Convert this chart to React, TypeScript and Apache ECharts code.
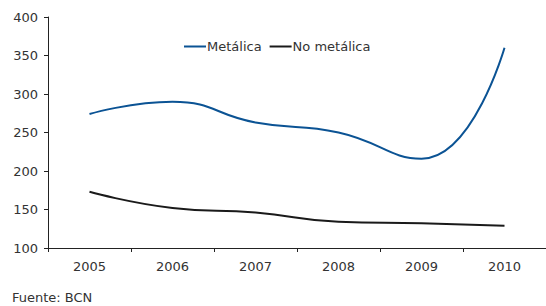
import React, { useEffect, useRef } from "react";
import * as echarts from "echarts";

const years = ["2005", "2006", "2007", "2008", "2009", "2010"];
const metalica = [274, 290, 263, 250, 216, 360];
const noMetalica = [173, 152, 146, 134, 132, 129];
const yTicks = { min: 100, max: 400, interval: 50 };
const sourceText = "Fuente: BCN";

const FONT = "DejaVu Sans";

export default function App() {
  const ref = useRef<HTMLDivElement>(null);
  useEffect(() => {
    if (!ref.current) return;
    const chart = echarts.init(ref.current, undefined, { renderer: "svg" });
    chart.setOption({
      animation: false,
      backgroundColor: "#ffffff",
      textStyle: { fontFamily: FONT },
      grid: { left: 48, top: 17, bottom: 58, width: 500 },
      legend: {
        top: 35,
        left: 179,
        itemWidth: 22,
        itemHeight: 2,
        itemGap: 8,
        icon: "rect",
        textStyle: { fontFamily: FONT, fontSize: 13, color: "#333", padding: [0, 0, 0, -4] },
        data: ["Metálica", "No metálica"],
      },
      xAxis: {
        type: "category",
        data: years,
        boundaryGap: true,
        axisLine: { lineStyle: { color: "#222", width: 1 } },
        axisTick: { show: true, length: 4, lineStyle: { color: "#222" } },
        axisLabel: { fontFamily: FONT, fontSize: 13, color: "#333", margin: 12 },
        splitLine: { show: false },
      },
      yAxis: {
        type: "value",
        min: yTicks.min,
        max: yTicks.max,
        interval: yTicks.interval,
        axisLine: { show: true, lineStyle: { color: "#222", width: 1 } },
        axisTick: { show: true, length: 4, lineStyle: { color: "#222" } },
        axisLabel: { fontFamily: FONT, fontSize: 13, color: "#333", margin: 10 },
        splitLine: { show: false },
      },
      series: [
        {
          name: "Metálica",
          type: "line",
          data: metalica,
          smooth: 0.5,
          symbol: "none",
          itemStyle: { color: "#0b5394" },
          lineStyle: { color: "#0b5394", width: 2 },
        },
        {
          name: "No metálica",
          type: "line",
          data: noMetalica,
          smooth: 0.5,
          symbol: "none",
          itemStyle: { color: "#1a1a1a" },
          lineStyle: { color: "#1a1a1a", width: 2 },
        },
      ],
      graphic: [
        {
          type: "text",
          left: 12,
          top: 291,
          style: { text: sourceText, fontFamily: FONT, fontSize: 13, fill: "#333" },
        },
      ],
    });
    return () => chart.dispose();
  }, []);
  return (
    <div
      ref={ref}
      style={{ position: "fixed", left: 0, top: 0, width: 546, height: 306 }}
    />
  );
}
